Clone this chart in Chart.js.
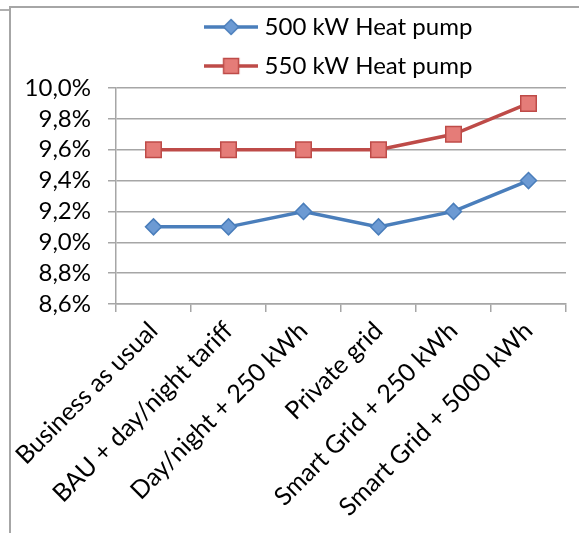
<!DOCTYPE html>
<html>
<head>
<meta charset="utf-8">
<script src="https://cdn.jsdelivr.net/npm/chart.js@4/dist/chart.umd.min.js"></script>
<style>
  html, body { margin: 0; padding: 0; background: #fff; overflow: hidden; }
  #wrap { position: relative; width: 579px; height: 533px; overflow: hidden; }
  #frame { position: absolute; left: 9px; top: 6px; width: 700px; height: 700px;
           border-left: 2px solid #A6A6A6; border-top: 2px solid #A6A6A6; }
  #stub { position: absolute; left: 0; top: 9px; width: 9px; height: 2px; background: #B0B0B0; }
  canvas { position: absolute; left: 0; top: 0; }
</style>
</head>
<body>
<div id="wrap">
  <div id="stub"></div>
  <div id="frame"></div>
  <canvas id="c" width="579" height="533"></canvas>
</div>
<script>
const categories = [
  'Business as usual',
  'BAU + day/night tariff',
  'Day/night + 250 kWh',
  'Private grid',
  'Smart Grid + 250 kWh',
  'Smart Grid + 5000 kWh'
];
const seriesNames = ['500 kW Heat pump', '550 kW Heat pump'];
const heatPump500 = [9.1, 9.1, 9.2, 9.1, 9.2, 9.4];
const heatPump550 = [9.6, 9.6, 9.6, 9.6, 9.7, 9.9];
const yTickValues = [8.6, 8.8, 9.0, 9.2, 9.4, 9.6, 9.8, 10.0];

const BLUE_LINE = '#4A7EBB', BLUE_FILL = '#6C9AD3';
const RED_LINE = '#BE4B48', RED_FILL = '#E57C78';

function legendSample(kind) {
  const cv = document.createElement('canvas');
  cv.width = 54; cv.height = 20;
  const g = cv.getContext('2d');
  const cy = 10;
  g.lineWidth = 3.5;
  g.strokeStyle = kind === 'diamond' ? BLUE_LINE : RED_LINE;
  g.beginPath(); g.moveTo(0, cy); g.lineTo(54, cy); g.stroke();
  g.lineWidth = 1.5;
  if (kind === 'diamond') {
    g.fillStyle = BLUE_FILL; g.strokeStyle = BLUE_LINE;
    g.beginPath(); g.moveTo(27 - 7.5, cy); g.lineTo(27, cy - 7.5); g.lineTo(27 + 7.5, cy); g.lineTo(27, cy + 7.5); g.closePath();
    g.fill(); g.stroke();
  } else {
    g.fillStyle = RED_FILL; g.strokeStyle = RED_LINE;
    g.beginPath(); g.rect(27 - 7.5, cy - 7.5, 15, 15); g.fill(); g.stroke();
  }
  return cv;
}
const legendImgs = [legendSample('diamond'), legendSample('square')];

Chart.defaults.font.family = 'Lato, "Open Sans", sans-serif';
Chart.defaults.font.size = 24;
Chart.defaults.color = '#000';

new Chart(document.getElementById('c'), {
  type: 'line',
  data: {
    labels: categories,
    datasets: [
      {
        label: seriesNames[0], data: heatPump500,
        borderColor: BLUE_LINE, backgroundColor: BLUE_FILL, borderWidth: 3.5,
        pointStyle: 'rectRot', pointRadius: 8, pointBorderWidth: 1.5,
        pointBackgroundColor: BLUE_FILL, pointBorderColor: BLUE_LINE, tension: 0
      },
      {
        label: seriesNames[1], data: heatPump550,
        borderColor: RED_LINE, backgroundColor: RED_FILL, borderWidth: 3.5,
        pointStyle: 'rect', pointRadius: 11, pointBorderWidth: 1.5,
        pointBackgroundColor: RED_FILL, pointBorderColor: RED_LINE, tension: 0
      }
    ]
  },
  options: {
    responsive: false,
    animation: false,
    events: [],
    layout: { padding: { left: 0, right: 13, top: 0, bottom: 0 } },
    plugins: {
      tooltip: { enabled: false },
      legend: {
        position: 'top',
        fullSize: false,
        maxHeight: 88,
        labels: {
          usePointStyle: true,
          pointStyleWidth: 43,
          padding: 15,
          color: '#000',
          font: { size: 24 },
          generateLabels: (chart) => {
            const items = Chart.defaults.plugins.legend.labels.generateLabels(chart);
            items.forEach((it, i) => { it.pointStyle = legendImgs[i]; });
            return items;
          }
        }
      }
    },
    scales: {
      x: {
        type: 'category',
        offset: true,
        grid: { offset: true, drawOnChartArea: false, color: '#A6A6A6', lineWidth: 1.5, tickLength: 8 },
        border: { color: '#A6A6A6', width: 1.5 },
        ticks: { minRotation: 45, maxRotation: 45, autoSkip: false, padding: 4, font: { size: 25 } },
        afterFit: (s) => { s.height = 229; }
      },
      y: {
        min: 8.6, max: 10.0,
        afterBuildTicks: (s) => { s.ticks = yTickValues.map(v => ({ value: v })); },
        grid: { color: '#A6A6A6', lineWidth: 1.5, tickLength: 8 },
        border: { color: '#A6A6A6', width: 1.5 },
        ticks: {
          autoSkip: false,
          padding: 17,
          font: { size: 24 },
          callback: (v) => v.toFixed(1).replace('.', ',') + '%'
        },
        afterFit: (s) => { s.width = 116; }
      }
    }
  }
});
</script>
</body>
</html>
